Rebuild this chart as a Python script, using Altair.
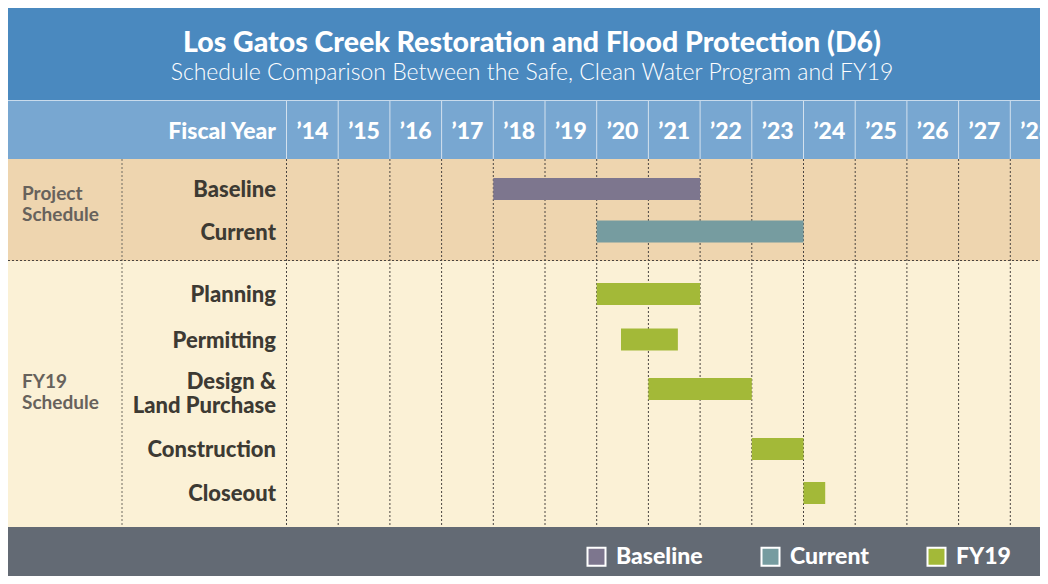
import altair as alt
import pandas as pd

# ---------------- data ----------------
years = list(range(2014, 2029))
year_labels = ["’14", "’15", "’16", "’17", "’18", "’19", "’20", "’21",
               "’22", "’23", "’24", "’25", "’26", "’27", "’28"]

tasks = ["Baseline", "Current", "Planning", "Permitting",
         "Design &\nLand Purchase", "Construction", "Closeout"]
series = ["Baseline", "Current", "FY19", "FY19", "FY19", "FY19", "FY19"]
starts = [2018, 2020, 2020, 2020.47, 2021, 2023, 2024]
ends = [2022, 2024, 2022, 2021.57, 2023, 2024, 2024.42]

groups = ["Project\nSchedule", "FY19\nSchedule"]
legend_items = ["Baseline", "Current", "FY19"]
legend_colors = ["#7d768e", "#769ca0", "#a3b938"]

title = "Los Gatos Creek Restoration and Flood Protection (D6)"
subtitle = "Schedule Comparison Between the Safe, Clean Water Program and FY19"

# ---------------- layout ----------------
W, H = 1032, 568
PX_PER_YEAR = 51.7
X_2014 = 278.5
x_domain = [2014 - X_2014 / PX_PER_YEAR, 2014 + (W - X_2014) / PX_PER_YEAR]
row_centers = [181, 223.5, 286, 331.5, 381, 441, 485]
group_first_line = [186, 374]
BAR_HALF = 11
ROW_LH = 24
FONT = "Lato"

xs = alt.Scale(domain=x_domain, nice=False, zero=False)
ys = alt.Scale(domain=[0, H], nice=False, zero=False, reverse=True)

bands = pd.DataFrame({
    "y0": [0, 92, 93, 151, 253, 519],
    "y1": [92, 93, 151, 253, 519, H],
    "c": ["#4a89bf", "#c9dbec", "#78a7d1", "#eed5af", "#fbf1d6", "#636a74"],
})

band_layer = alt.Chart(bands).mark_rect().encode(
    x=alt.value(0), x2=alt.value(W),
    y=alt.Y("y0:Q", scale=ys, axis=None), y2="y1:Q",
    fill=alt.Fill("c:N", scale=None, legend=None),
)

yr = pd.DataFrame({"year": years, "label": year_labels})
yr["mid"] = yr["year"] + 0.5
yr["hy0"] = 93
yr["hy1"] = 151
yr["gy0"] = 151
yr["gy1"] = 519
yr["ty"] = 124

header_sep = alt.Chart(yr).mark_rule(color="#d3e1ee", strokeWidth=1).encode(
    x=alt.X("year:Q", scale=xs, axis=None),
    y=alt.Y("hy0:Q", scale=ys, axis=None), y2="hy1:Q",
)

grid = alt.Chart(yr).mark_rule(color="#4a4541", strokeWidth=1, strokeDash=[2, 2]).encode(
    x=alt.X("year:Q", scale=xs, axis=None),
    y=alt.Y("gy0:Q", scale=ys, axis=None), y2="gy1:Q",
)

left_sep = alt.Chart(pd.DataFrame({"y0": [151], "y1": [519]})).mark_rule(
    color="#6f6a60", strokeWidth=1, strokeDash=[2, 2]).encode(
    x=alt.value(114), y=alt.Y("y0:Q", scale=ys, axis=None), y2="y1:Q",
)

hsep = alt.Chart(pd.DataFrame({"y": [252.5]})).mark_rule(
    color="#4a4541", strokeWidth=1, strokeDash=[2, 2]).encode(
    x=alt.value(0), x2=alt.value(W), y=alt.Y("y:Q", scale=ys, axis=None),
)

year_text = alt.Chart(yr).mark_text(
    font=FONT, fontSize=23, fontWeight=900, color="white", align="center", baseline="middle"
).encode(
    x=alt.X("mid:Q", scale=xs, axis=None), y=alt.Y("ty:Q", scale=ys, axis=None), text="label:N",
)

fy_text = alt.Chart(pd.DataFrame({"t": ["Fiscal Year"], "ty": [124]})).mark_text(
    font=FONT, fontSize=23, fontWeight=900, color="white", align="right", baseline="middle"
).encode(x=alt.value(268), y=alt.Y("ty:Q", scale=ys, axis=None), text="t:N")

tdf = pd.DataFrame({"task": tasks, "series": series, "start": starts, "end": ends,
                    "yc": row_centers})
tdf["y0"] = tdf["yc"] - BAR_HALF
tdf["y1"] = tdf["yc"] + BAR_HALF
# first line of a wrapped label sits above the row centre
n_breaks = tdf["task"].str.count("\n")
tdf["ly"] = tdf["yc"] + 1 + n_breaks * (3.5 - ROW_LH / 2)

bars = alt.Chart(tdf).mark_rect().encode(
    x=alt.X("start:Q", scale=xs, axis=None), x2="end:Q",
    y=alt.Y("y0:Q", scale=ys, axis=None), y2="y1:Q",
    color=alt.Color("series:N",
                    scale=alt.Scale(domain=legend_items, range=legend_colors),
                    legend=alt.Legend(
                        title=None, orient="none", direction="horizontal",
                        legendX=577, legendY=537, padding=0,
                        symbolType="square", symbolSize=324,
                        symbolStrokeColor="white", symbolStrokeWidth=2,
                        symbolOpacity=1,
                        labelFont=FONT, labelFontSize=23, labelFontWeight=900,
                        labelColor="white", labelOffset=8, columnPadding=54,
                    )),
)

row_text = alt.Chart(tdf).mark_text(
    font=FONT, fontSize=22, fontWeight=900, color="#3d3a33", align="right",
    baseline="middle", lineBreak="\n", lineHeight=ROW_LH,
).encode(x=alt.value(268), y=alt.Y("ly:Q", scale=ys, axis=None), text="task:N")

gdf = pd.DataFrame({"g": groups, "yc": group_first_line})
group_text = alt.Chart(gdf).mark_text(
    font=FONT, fontSize=19, fontWeight=700, color="#67625c", align="left",
    baseline="middle", lineBreak="\n", lineHeight=21,
).encode(x=alt.value(14), y=alt.Y("yc:Q", scale=ys, axis=None), text="g:N")

title_text = alt.Chart(pd.DataFrame({"t": [title], "yc": [35]})).mark_text(
    font=FONT, fontSize=28.5, fontWeight=900, color="white", align="center", baseline="middle"
).encode(x=alt.value(524), y=alt.Y("yc:Q", scale=ys, axis=None), text="t:N")
sub_text = alt.Chart(pd.DataFrame({"t": [subtitle], "yc": [65]})).mark_text(
    font=FONT, fontSize=23, fontWeight=300, color="white", align="center", baseline="middle"
).encode(x=alt.value(524), y=alt.Y("yc:Q", scale=ys, axis=None), text="t:N")

chart = alt.layer(
    band_layer, header_sep, grid, left_sep, hsep, bars,
    year_text, fy_text, row_text, group_text, title_text, sub_text,
).properties(
    width=W, height=H, padding=0, autosize=alt.AutoSizeParams(type="none"),
    background="white",
).configure_view(stroke=None)

chart.save("out.html", embed_options={"renderer": "svg", "actions": False})
